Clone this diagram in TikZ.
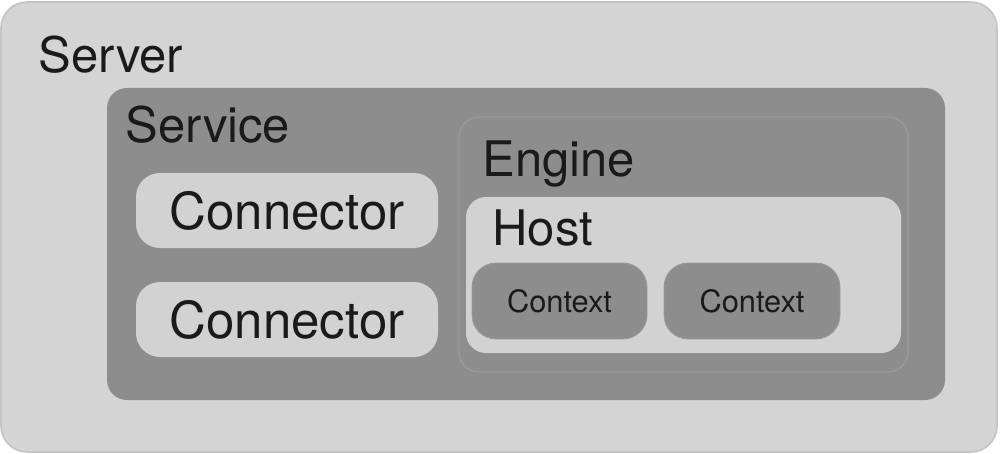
\documentclass[tikz,border=0pt]{standalone}
\usepackage{fontspec}
\setmainfont{TeX Gyre Heros}
\definecolor{outerfill}{HTML}{D4D4D4}
\definecolor{outerline}{HTML}{C4C4C4}
\definecolor{darkfill}{HTML}{8D8D8D}
\definecolor{engline}{HTML}{9A9A9A}
\definecolor{lightfill}{HTML}{D2D2D2}
\definecolor{txt}{HTML}{1A1A1A}
\tikzset{
  box/.style={anchor=north west, inner sep=0pt, outer sep=0pt},
  big/.style={font=\fontsize{24.5pt}{28pt}\selectfont, text=txt, inner sep=0pt, anchor=base west},
  conntext/.style={font=\fontsize{25.5pt}{28pt}\selectfont, text=txt, inner sep=0pt, anchor=center},
  small/.style={font=\fontsize{15.4pt}{18pt}\selectfont, text=txt, inner sep=0pt},
}
\begin{document}
\begin{tikzpicture}[x=0.5pt,y=-0.5pt]
\useasboundingbox (0,0) rectangle (1000,454);
% Server
\node[box, fill=outerfill, draw=outerline, line width=0.8pt, rounded corners=13pt,
  minimum width=498pt, minimum height=225pt] (server) at (1,2) {};
\node[big] (serverlbl) at (38,73) {Server};
% Service
\node[box, fill=darkfill, rounded corners=10pt,
  minimum width=419pt, minimum height=156pt] (service) at (107,88) {};
\node[big] (servicelbl) at (125,143) {Service};
% Connectors
\node[box, fill=lightfill, rounded corners=12pt,
  minimum width=151pt, minimum height=37.5pt] (conn1) at (136,173) {};
\node[conntext] (conn1lbl) at (conn1.center) {Connector};
\node[box, fill=lightfill, rounded corners=12pt,
  minimum width=151pt, minimum height=37.5pt] (conn2) at (136,282) {};
\node[conntext] (conn2lbl) at (conn2.center) {Connector};
% Engine
\node[box, fill=darkfill, draw=engline, line width=0.6pt, rounded corners=10pt,
  minimum width=224.5pt, minimum height=127.5pt] (engine) at (459,117) {};
\node[big] (enginelbl) at (482,177) {Engine};
% Host
\node[box, fill=lightfill, rounded corners=10pt,
  minimum width=217.5pt, minimum height=78pt] (host) at (466,197) {};
\node[big] (hostlbl) at (492,245) {Host};
% Contexts
\node[box, fill=darkfill, draw=engline, line width=0.4pt, rounded corners=12pt,
  minimum width=87.5pt, minimum height=38pt] (ctx1) at (472,263) {};
\node[small] (ctx1lbl) at (ctx1.center) {Context};
\node[box, fill=darkfill, draw=engline, line width=0.4pt, rounded corners=12pt,
  minimum width=88pt, minimum height=38pt] (ctx2) at (664,263) {};
\node[small] (ctx2lbl) at (ctx2.center) {Context};
\end{tikzpicture}
\end{document}
